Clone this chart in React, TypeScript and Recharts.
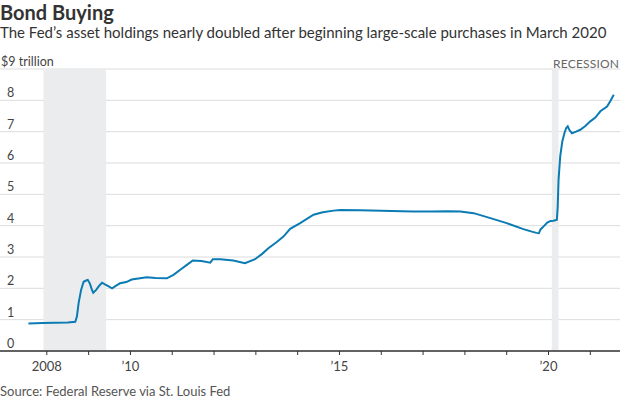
import React from 'react';
import { LineChart, Line, XAxis, YAxis, CartesianGrid, ReferenceArea } from 'recharts';

// decimal year of each reading
const dates = [
  2007.56, 2007.9, 2008.2, 2008.5, 2008.68, 2008.72, 2008.76, 2008.82, 2008.88, 2008.94,
  2008.98, 2009.03, 2009.08, 2009.11, 2009.18, 2009.25, 2009.32, 2009.4, 2009.48, 2009.56,
  2009.65, 2009.75, 2009.9, 2010.03, 2010.23, 2010.39, 2010.6, 2010.87, 2011.03, 2011.2,
  2011.35, 2011.49, 2011.7, 2011.91, 2011.97, 2012.15, 2012.46, 2012.74, 2012.98, 2013.15,
  2013.3, 2013.5, 2013.66, 2013.82, 2014.06, 2014.38, 2014.6, 2014.86, 2015.02, 2015.5,
  2016.0, 2016.5, 2016.77, 2017.2, 2017.6, 2017.89, 2018.21, 2018.61, 2019.0, 2019.4,
  2019.6, 2019.71, 2019.77, 2019.81, 2019.9, 2019.97, 2020.05, 2020.12, 2020.2, 2020.22,
  2020.24, 2020.28, 2020.33, 2020.38, 2020.42, 2020.46, 2020.5, 2020.56, 2020.66, 2020.76,
  2020.88, 2021.0, 2021.12, 2021.24, 2021.4, 2021.48, 2021.56,
];

// total assets, $ trillion
const assets = [
  0.88, 0.89, 0.9, 0.91, 0.93, 1.1, 1.53, 1.95, 2.21, 2.25,
  2.27, 2.15, 1.95, 1.86, 1.95, 2.08, 2.18, 2.12, 2.06, 2.0,
  2.08, 2.16, 2.2, 2.28, 2.32, 2.35, 2.33, 2.32, 2.43, 2.6,
  2.75, 2.89, 2.87, 2.82, 2.93, 2.93, 2.89, 2.8, 2.93, 3.1,
  3.28, 3.48, 3.65, 3.9, 4.08, 4.35, 4.43, 4.48, 4.5, 4.49,
  4.48, 4.46, 4.45, 4.45, 4.46, 4.45, 4.4, 4.24, 4.08, 3.89,
  3.81, 3.77, 3.76, 3.88, 4.0, 4.1, 4.15, 4.16, 4.19, 4.6,
  5.46, 6.21, 6.69, 6.95, 7.11, 7.17, 7.05, 6.95, 7.0, 7.06,
  7.18, 7.33, 7.45, 7.65, 7.8, 7.98, 8.18,
];

const yearTicks = [2008, 2009, 2010, 2011, 2012, 2013, 2014, 2015, 2016, 2017, 2018, 2019, 2020, 2021];
const yearLabels: Record<number, string> = { 2008: '2008', 2010: '’10', 2015: '’15', 2020: '’20' };
const valueTicks = [0, 1, 2, 3, 4, 5, 6, 7, 8, 9];

const recessions = [
  [2007.92, 2009.42],
  [2020.08, 2020.24],
];

const chartData = dates.map((t, i) => ({ t, v: assets[i] }));

const FONT = 'Lato, "Noto Sans", sans-serif';

const YTick = ({ y, payload }: any) => (
  <text x={payload.value === 9 ? 1 : 7} y={y - 3} fill="#444" fontSize={12.5} fontFamily={FONT}>
    {payload.value === 9 ? '$9 trillion' : payload.value}
  </text>
);

const XTick = ({ x, y, payload }: any) => {
  const label = yearLabels[payload.value];
  if (!label) return null;
  return (
    <text x={x} y={y + 14} textAnchor="middle" fill="#444" fontSize={13} fontFamily={FONT}>
      {label}
    </text>
  );
};

export default function App() {
  return (
    <div style={{ position: 'absolute', left: 0, top: 0, width: 620, height: 400, background: '#fff', fontFamily: FONT }}>
      <div style={{ position: 'absolute', left: 0, top: 0, fontSize: 20, fontWeight: 700, color: '#333' }}>Bond Buying</div>
      <div style={{ position: 'absolute', left: 0, top: 23, fontSize: 15, color: '#333', whiteSpace: 'nowrap' }}>
        The Fed’s asset holdings nearly doubled after beginning large-scale purchases in March 2020
      </div>
      <div style={{ position: 'absolute', left: 0, top: 0 }}>
        <LineChart width={620} height={400} data={chartData} margin={{ top: 69, right: 0, left: 0, bottom: 29 }}>
          <CartesianGrid vertical={false} stroke="#dcdcdc" />
          {recessions.map(([a, b], i) => (
            <ReferenceArea key={i} x1={a} x2={b} y1={0} y2={9} fill="#ebecee" fillOpacity={1} stroke="none" ifOverflow="visible" />
          ))}
          <XAxis
            type="number"
            dataKey="t"
            domain={[2006.88, 2021.71]}
            ticks={yearTicks}
            allowDataOverflow
            height={20}
            axisLine={{ stroke: '#333', strokeWidth: 1.5 }}
            tickLine={{ stroke: '#333' }}
            tickSize={4}
            tick={<XTick />}
            interval={0}
          />
          <YAxis
            type="number"
            domain={[0, 9]}
            ticks={valueTicks}
            width={40}
            mirror
            axisLine={false}
            tickLine={false}
            tick={<YTick />}
            interval={0}
          />
          <Line type="linear" dataKey="v" stroke="#0b7bb4" strokeWidth={2} dot={false} isAnimationActive={false} />
        </LineChart>
      </div>
      <div style={{ position: 'absolute', left: 553, top: 56, fontSize: 12, color: '#666', letterSpacing: 0.2 }}>RECESSION</div>
      <div style={{ position: 'absolute', left: 0, top: 383, fontSize: 13, color: '#555' }}>Source: Federal Reserve via St. Louis Fed</div>
    </div>
  );
}
